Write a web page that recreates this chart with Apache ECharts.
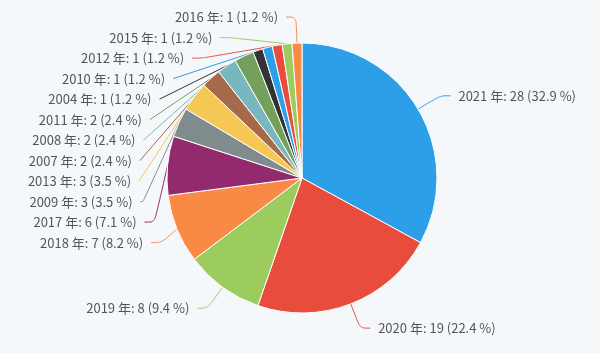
<!DOCTYPE html>
<html>
<head>
<meta charset="utf-8">
<script src="https://cdn.jsdelivr.net/npm/echarts@6/dist/echarts.min.js"></script>
<style>
  html, body { margin: 0; padding: 0; background: #f5f8fa; }
  #chart { width: 600px; height: 353px; }
</style>
</head>
<body>
<div id="chart"></div>
<script>
// 年份（顺时针，从12点方向开始）
const years = ['2021', '2020', '2019', '2018', '2017', '2009', '2013', '2007', '2008', '2011', '2004', '2010', '2012', '2015', '2016'];
const counts = [28, 19, 8, 7, 6, 3, 3, 2, 2, 2, 1, 1, 1, 1, 1];
const palette = ['#2d9fe9', '#e74c3c', '#9ccb5e', '#f88a45', '#932a6e', '#7f8b8c', '#f5c855', '#a6694a', '#79b7be', '#74a05b', '#333333'];

const chartDom = document.getElementById('chart');
let chart = echarts.getInstanceByDom(chartDom);
if (!chart) {
    chart = echarts.init(chartDom);
}

const pieData = years.map((y, i) => ({ name: y + ' 年', value: counts[i] }));

const option = {
    backgroundColor: '#f5f8fa',
    color: palette,
    animation: false,
    series: [{
        type: 'pie',
        center: [302, 178],
        radius: [0, 135],
        startAngle: 90,
        data: pieData,
        itemStyle: {
            borderColor: '#ffffff',
            borderWidth: 1
        },
        label: {
            formatter: (p) => p.name + ': ' + p.value + ' (' + p.percent.toFixed(1) + ' %)',
            color: '#555555',
            fontSize: 13,
            lineHeight: 18.5,
            distanceToLabelLine: 8,
            fontFamily: '"Noto Sans CJK JP", "Noto Sans", sans-serif'
        },
        labelLine: {
            smooth: true,
            length: 26,
            length2: 10,
            lineStyle: { width: 1 }
        }
    }]
};
chart.setOption(option);
window.addEventListener('resize', () => {
    chart.resize();
});
</script>
</body>
</html>
